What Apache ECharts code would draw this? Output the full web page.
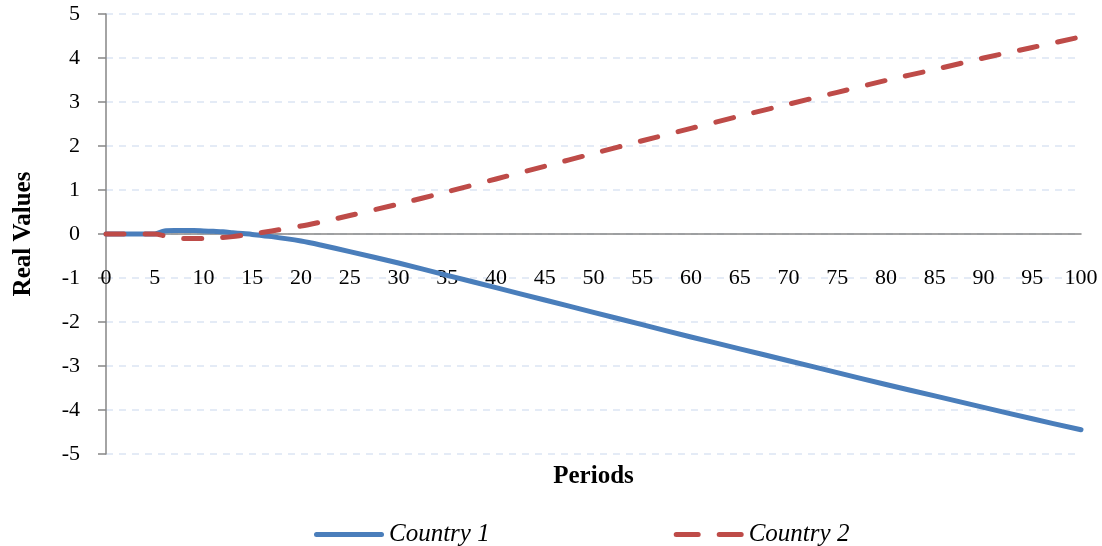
<!DOCTYPE html>
<html>
<head>
<meta charset="utf-8">
<script src="https://cdn.jsdelivr.net/npm/echarts@6/dist/echarts.min.js"></script>
<style>
html,body{margin:0;padding:0;background:#fff;}
#chart{width:1102px;height:546px;}
</style>
</head>
<body>
<div id="chart"></div>
<script>
var periods   = [0, 5, 6, 7, 8, 9, 10, 11, 12, 13, 14, 15, 17, 20, 22, 25, 30, 35, 40, 45, 50, 55, 60, 65, 70, 75, 80, 85, 90, 95, 100];
var country1  = [0, 0, 0.07, 0.08, 0.08, 0.08, 0.07, 0.06, 0.05, 0.03, 0.01, -0.01, -0.06, -0.16, -0.25, -0.40, -0.66, -0.94, -1.22, -1.50, -1.78, -2.06, -2.34, -2.61, -2.88, -3.15, -3.42, -3.68, -3.94, -4.20, -4.45];
var country2  = [0, 0, -0.04, -0.08, -0.10, -0.10, -0.10, -0.09, -0.08, -0.06, -0.03, 0, 0.07, 0.18, 0.27, 0.42, 0.68, 0.96, 1.25, 1.54, 1.83, 2.12, 2.40, 2.68, 2.95, 3.22, 3.49, 3.74, 4.00, 4.24, 4.48];
var seriesNames = ['Country 1', 'Country 2'];
var xTitle = 'Periods';
var yTitle = 'Real Values';

function pairs(xs, ys) { return xs.map(function (x, i) { return [x, ys[i]]; }); }

var serif = '"Liberation Serif", "DejaVu Serif", serif';
var chart = echarts.init(document.getElementById('chart'));
chart.setOption({
  animation: false,
  grid: { left: 106, right: 21, top: 14, bottom: 92, containLabel: false, outerBoundsMode: 'none' },
  legend: {
    left: 309, top: 517,
    itemWidth: 70, itemHeight: 5, itemGap: 184,
    textStyle: { fontFamily: serif, fontStyle: 'italic', fontSize: 25, color: '#000' },
    data: [
      { name: seriesNames[0], icon: 'path://M2.5,0H67.5A2.5,2.5,0,0,1,67.5,5H2.5A2.5,2.5,0,0,1,2.5,0Z' },
      { name: seriesNames[1], icon: 'path://M2.5,0H24.5A2.5,2.5,0,0,1,24.5,5H2.5A2.5,2.5,0,0,1,2.5,0Z M45.5,0H67.5A2.5,2.5,0,0,1,67.5,5H45.5A2.5,2.5,0,0,1,45.5,0Z' }
    ]
  },
  xAxis: {
    type: 'value', min: 0, max: 100, interval: 5,
    offset: -220,
    name: xTitle, nameLocation: 'middle', nameGap: 230,
    nameTextStyle: { fontFamily: serif, fontWeight: 'bold', fontSize: 25, color: '#000' },
    axisLine: { onZero: false, lineStyle: { color: '#868686', width: 1.5 } },
    axisTick: { show: false },
    axisLabel: { margin: 33, fontFamily: serif, fontSize: 22, color: '#000' },
    splitLine: { show: false }
  },
  yAxis: {
    type: 'value', min: -5, max: 5, interval: 1,
    name: yTitle, nameLocation: 'middle', nameGap: 70, nameRotate: 90,
    nameTextStyle: { fontFamily: serif, fontWeight: 'bold', fontSize: 25, color: '#000' },
    axisLine: { show: true, onZero: false, lineStyle: { color: '#868686', width: 1.5 } },
    axisTick: { show: true, length: 8, inside: false, lineStyle: { color: '#868686', width: 1.5 } },
    axisLabel: { margin: 26, fontFamily: serif, fontSize: 22, color: '#000' },
    splitLine: { show: true, lineStyle: { color: '#dce5f3', width: 1.5, type: [7, 6] } }
  },
  series: [
    {
      name: seriesNames[0], type: 'line', data: pairs(periods, country1),
      symbol: 'none', smooth: 0.3, z: 3,
      lineStyle: { color: '#4a7ebb', width: 5, cap: 'round', join: 'round' },
      itemStyle: { color: '#4a7ebb' }
    },
    {
      name: seriesNames[1], type: 'line', data: pairs(periods, country2),
      symbol: 'none', smooth: 0.3, z: 4,
      lineStyle: { color: '#be4b48', width: 5, type: [18, 21], cap: 'round', join: 'round' },
      itemStyle: { color: '#be4b48' }
    }
  ]
});
</script>
</body>
</html>
